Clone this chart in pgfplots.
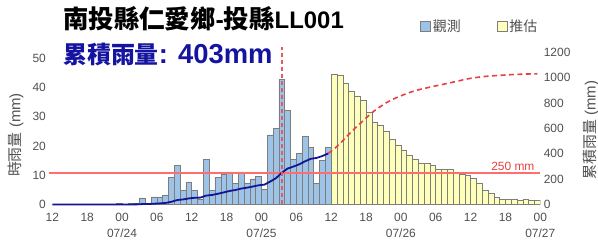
\documentclass[border=0pt]{standalone}
\usepackage{fontspec}
\setmainfont{Liberation Sans}
\newfontfamily\cjk{Noto Sans CJK TC}
\usepackage{pgfplots}
\pgfplotsset{compat=1.18}
\definecolor{obsblue}{RGB}{157,195,230}
\definecolor{fcyellow}{RGB}{255,255,188}
\definecolor{bargray}{RGB}{125,125,125}
\definecolor{cumblue}{RGB}{20,20,150}
\definecolor{fcred}{RGB}{232,64,64}
\definecolor{vred}{RGB}{225,90,100}
\definecolor{hred}{RGB}{255,110,110}
\definecolor{tickgray}{RGB}{80,80,80}
\definecolor{titleblue}{RGB}{20,20,160}
\begin{document}
\begin{tikzpicture}
\pgfplotsset{
  common/.style={
    at={(49.4bp,36.5bp)}, anchor=south west, scale only axis,
    width=490.9bp, height=152bp,
    xmin=-0.5, xmax=84,
    axis line style={draw=none}, major tick length=0pt,
    tick label style={font=\fontsize{12}{16}\selectfont, text=tickgray},
    /pgf/number format/assume math mode=true,
    /pgf/number format/1000 sep={},
  }
}
\begin{axis}[common,
  ymin=0, ymax=52,
  ytick={0,10,...,50},
  xtick={0,6,...,84},
  xticklabels={12,18,{00\\07/24},06,12,18,{00\\07/25},06,12,18,{00\\07/26},06,12,18,{00\\07/27}},
  xticklabel style={align=center, yshift=-5bp},
  ylabel={{\cjk 時雨量} (mm)},
  ylabel style={at={(axis description cs:-0.069,0.457)}, anchor=center, font=\fontsize{15}{15}\selectfont, text=tickgray},
  legend style={at={(0.749,1.17)}, anchor=west, draw=none, fill=none, legend columns=2,
    font=\fontsize{14}{14}\selectfont\cjk, text=tickgray,
    /tikz/every even column/.append style={column sep=34bp}},
]
\addplot[ybar, bar width=1, bar shift=0pt, fill=obsblue, draw=bargray, line width=0.5bp,
  legend image code/.code={\draw[fill=obsblue, draw=bargray, line width=0.6bp] (0bp,-5bp) rectangle (10bp,5bp);}]
  table {
x y
11.5 0.3
13.5 0.3
14.5 0.3
15.5 2.3
16.5 0.3
17.5 2.6
18.5 2.6
19.5 3.2
20.5 9.3
21.5 13.3
22.5 4.9
23.5 7.7
24.5 4.9
25.5 1.7
26.5 15.4
27.5 4.8
28.5 9.4
29.5 10.4
30.5 11.2
31.5 7.1
32.5 11.2
33.5 7.1
34.5 8.8
35.5 9.6
36.5 5.1
37.5 23.8
38.5 26.1
39.5 42.8
40.5 32.2
41.5 15.5
42.5 17.4
43.5 23.2
44.5 19.5
45.5 7.1
46.5 15.0
47.5 19.5
};
\addlegendentry{觀測}
\addplot[ybar, bar width=1, bar shift=0pt, fill=fcyellow, draw=bargray, line width=0.5bp,
  legend image code/.code={\draw[fill=fcyellow, draw=bargray, line width=0.6bp] (0bp,-5bp) rectangle (10bp,5bp);}]
  table {
x y
48.5 44.4
49.5 44.2
50.5 41.4
51.5 38.6
52.5 37.2
53.5 35.7
54.5 31.5
55.5 28.3
56.5 27.2
57.5 24.9
58.5 22.4
59.5 20.1
60.5 18.7
61.5 17.0
62.5 15.6
63.5 14.2
64.5 14.2
65.5 13.3
66.5 12.1
67.5 12.1
68.5 11.9
69.5 11.1
70.5 10.4
71.5 9.9
72.5 8.9
73.5 7.2
74.5 4.8
75.5 3.8
76.5 2.5
77.5 1.7
78.5 1.7
79.5 1.7
80.5 1.4
81.5 1.7
82.5 1.4
83.5 1.4
};
\addlegendentry{推估}
\end{axis}
\begin{axis}[common,
  ymin=0, ymax=1200,
  axis y line*=right, axis x line=none,
  ytick={0,200,...,1200},
  clip=false,
  ylabel={{\cjk 累積雨量} (mm)},
  ylabel style={at={(axis description cs:1.103,0.49)}, anchor=center, rotate=0, font=\fontsize{15}{15}\selectfont, text=tickgray},
]
\addplot[hred, line width=1.4bp] coordinates {(-0.5,250) (84,250)};
\addplot[cumblue, line width=1.8bp] coordinates {
(0,0) (10.5,0) (11.5,0.3) (12.5,0.3) (13.5,0.6) (14.5,0.9) (15.5,3.3) (16.5,3.6) (17.5,6.2) (18.5,8.9) (19.5,12.1) (20.5,21.6) (21.5,35.1) (22.5,40.1) (23.5,48.0) (24.5,53.0) (25.5,54.7) (26.5,70.3) (27.5,75.2) (28.5,84.7) (29.5,95.4) (30.5,106.9) (31.5,114.1) (32.5,125.6) (33.5,132.8) (34.5,141.7) (35.5,151.5) (36.5,156.7) (37.5,180.9) (38.5,207.5) (39.5,251.0) (40.5,283.7) (41.5,299.5) (42.5,317.1) (43.5,340.8) (44.5,360.6) (45.5,367.8) (46.5,383.1) (47.5,403)
};
\addplot[fcred, line width=1.6bp, dash pattern=on 5bp off 3.5bp] coordinates {
(47.5,403) (48.5,438) (49.5,480) (50.5,527) (51.5,576) (52.5,619) (53.5,661) (54.5,704) (55.5,742) (56.5,774) (57.5,804) (58.5,828) (59.5,849) (60.5,867) (61.5,884) (62.5,899) (63.5,911) (64.5,921) (65.5,932) (66.5,941) (67.5,951) (68.5,961) (69.5,971) (70.5,982) (71.5,992) (72.5,1000) (73.5,1006) (74.5,1011) (75.5,1015) (76.5,1018) (77.5,1021) (78.5,1024) (79.5,1026) (80.5,1028) (81.5,1030) (82.5,1031) (83.5,1032)
};
\addplot[vred, line width=1.8bp, dash pattern=on 4bp off 3bp] coordinates {(39.5,0) (39.5,1245)};
\node[anchor=south east, text=fcred, font=\fontsize{12}{12}\selectfont, inner sep=1bp] at (axis cs:83.2,255) {250 mm};
\end{axis}
\node[anchor=base west, inner sep=0pt] at (63bp,212.7bp) {\bfseries{\fontsize{25.5}{26}\selectfont\cjk 南投縣仁愛鄉}{\fontsize{25}{26}\selectfont -}{\fontsize{25.5}{26}\selectfont\cjk 投縣}{\fontsize{24}{26}\selectfont LL001}};
\node[anchor=base west, inner sep=0pt, text=titleblue] at (63bp,177bp) {\bfseries{\fontsize{24}{26}\selectfont\cjk 累積雨量}{\fontsize{27.5}{30}\selectfont: 403mm}};
\pgfresetboundingbox
\useasboundingbox (0,0) rectangle (598bp,241bp);
\end{tikzpicture}
\end{document}
